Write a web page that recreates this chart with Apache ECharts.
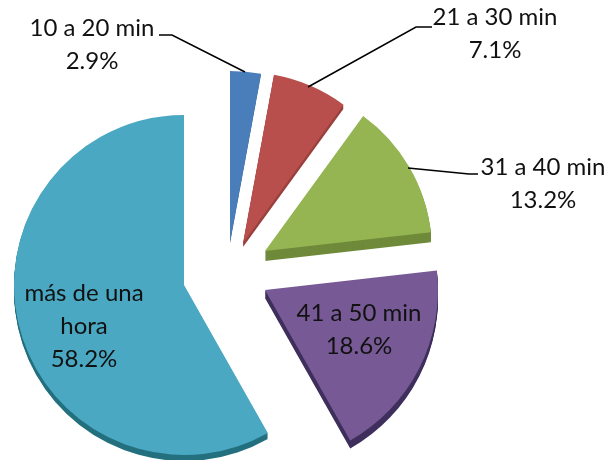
<!DOCTYPE html>
<html>
<head>
<meta charset="utf-8">
<style>html,body{margin:0;padding:0;background:#fff}#c{width:611px;height:460px}</style>
<script src="https://cdn.jsdelivr.net/npm/echarts@6/dist/echarts.min.js"></script>
</head>
<body>
<div id="c"></div>
<script>
var categories = ['10 a 20 min', '21 a 30 min', '31 a 40 min', '41 a 50 min', 'más de una hora'];
var values = [2.9, 7.1, 13.2, 18.6, 58.2];
var faceColors = ['#4a7ebb', '#b94f4c', '#95b552', '#775a95', '#4aa8c3'];
var sideColors = ['#2f5a8c', '#9a403d', '#6f8a3a', '#3f2f5c', '#24707f'];
var sliceCenters = [[230, 242], [243, 243], [265, 251], [265, 290], [184, 285]];
var sliceRadii = [171, 171, 167, 173, 170];
var sliceDepths = [1, 4, 10, 8, 6];
var labelCenters = [[92, 45], [495, 34], [543, 184], [359, 330], [84, 326]];
var leaderLines = [
  [[159, 35], [172, 35], [245, 72]],
  [[432, 27], [416, 27], [308, 87]],
  [[478, 174], [469, 174], [408, 168]]
];

function sliceData(index, mode) {
  return categories.map(function (name, i) {
    var on = i === index;
    return {
      name: name,
      value: values[i],
      itemStyle: { color: on ? (mode === 'side' ? sideColors[i] : faceColors[i]) : 'rgba(0,0,0,0)' },
      label: { show: on && mode === 'face' },
      labelLine: { show: false }
    };
  });
}

function pieSeries(index, mode, dy) {
  return {
    type: 'pie',
    silent: true,
    animation: false,
    startAngle: 90,
    clockwise: true,
    avoidLabelOverlap: false,
    center: [sliceCenters[index][0], sliceCenters[index][1] + dy],
    radius: [0, sliceRadii[index]],
    emphasis: { disabled: true },
    label: {
      position: 'inside',
      fontFamily: 'Lato',
      fontSize: 24,
      lineHeight: 33,
      color: '#111',
      align: 'center',
      verticalAlign: 'middle',
      formatter: function (p) {
        return p.name.replace('de una hora', 'de una\nhora') + '\n' + p.percent.toFixed(1) + '%';
      }
    },
    labelLayout: function () {
      return { x: labelCenters[index][0], y: labelCenters[index][1], align: 'center', verticalAlign: 'middle' };
    },
    data: sliceData(index, mode)
  };
}

var series = [];
categories.forEach(function (c, i) {
  for (var dy = sliceDepths[i]; dy > 0; dy--) series.push(pieSeries(i, 'side', dy));
  series.push(pieSeries(i, 'face', 0));
});

var chart = echarts.init(document.getElementById('c'), null, { renderer: 'canvas' });
chart.setOption({
  backgroundColor: '#ffffff',
  animation: false,
  series: series,
  graphic: leaderLines.map(function (pts) {
    return {
      type: 'polyline',
      silent: true,
      z: 50,
      shape: { points: pts },
      style: { stroke: '#000', lineWidth: 1.5, fill: null }
    };
  })
});
</script>
</body>
</html>
